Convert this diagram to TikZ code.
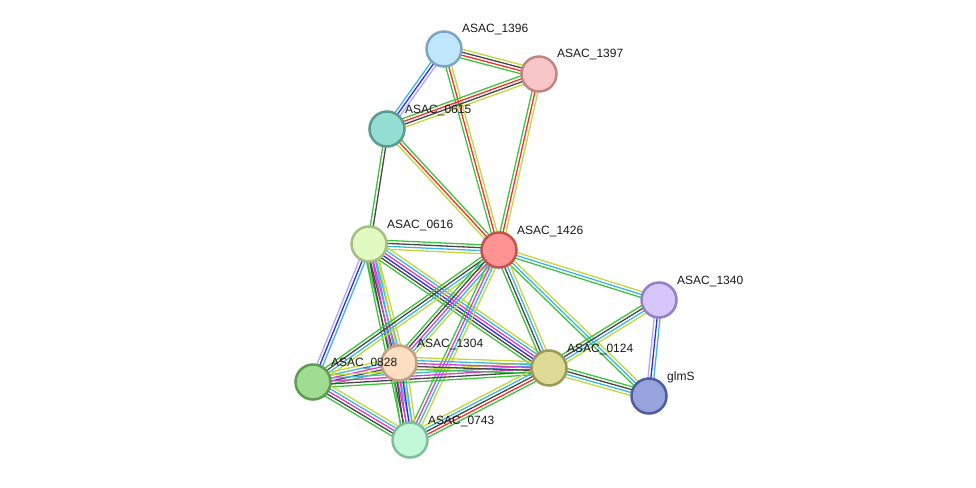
\documentclass[tikz,border=0pt]{standalone}
\usepackage{fontspec}
\setmainfont{Liberation Sans}
\usetikzlibrary{calc}
\pgfdeclarelayer{background}
\pgfsetlayers{background,main}
\definecolor{sgreen}{HTML}{3DC33D}
\definecolor{sred}{HTML}{FF2A2A}
\definecolor{sblue}{HTML}{2A2AFF}
\definecolor{sdark}{HTML}{474747}
\definecolor{scyan}{HTML}{3CB6E0}
\definecolor{smag}{HTML}{D63CD6}
\definecolor{syel}{HTML}{C3D63C}
\definecolor{slav}{HTML}{ABA8FF}
\definecolor{f1396}{HTML}{BFE6FB}\definecolor{d1396}{HTML}{7CA5C3}
\definecolor{f1397}{HTML}{F7C6C6}\definecolor{d1397}{HTML}{C08686}
\definecolor{f0615}{HTML}{94DDD3}\definecolor{d0615}{HTML}{5A9A90}
\definecolor{f0616}{HTML}{E0FAC2}\definecolor{d0616}{HTML}{A6BE86}
\definecolor{f1426}{HTML}{FF9292}\definecolor{d1426}{HTML}{C05252}
\definecolor{f1340}{HTML}{D6C6FB}\definecolor{d1340}{HTML}{927FC6}
\definecolor{f0828}{HTML}{A0DD92}\definecolor{d0828}{HTML}{5E9C52}
\definecolor{f1304}{HTML}{FDDEC2}\definecolor{d1304}{HTML}{BFA080}
\definecolor{f0124}{HTML}{DEDB96}\definecolor{d0124}{HTML}{9C9858}
\definecolor{fglmS}{HTML}{98A3DE}\definecolor{dglmS}{HTML}{4F5D9E}
\definecolor{f0743}{HTML}{C2F8D8}\definecolor{d0743}{HTML}{7EBE9E}
\tikzset{
  prot/.style={circle, draw=d#1, fill=f#1, line width=2.5pt, minimum size=35pt, inner sep=0pt},
  plabel/.style={anchor=base west, font=\fontsize{12}{14}\selectfont, text=black!90, inner sep=0pt},
  eline/.style={line width=1.3pt}
}
\newcommand\sedge[3]{%
  \xdef\nc{0}%
  \foreach \c in {#3}{\pgfmathtruncatemacro\tmp{\nc+1}\global\let\nc\tmp}%
  \foreach \c [count=\i] in {#3}{%
    \pgfmathsetmacro\off{(\i-1-(\nc-1)/2)*2.95}%
    \draw[eline,\c] ($(#1)!\off pt!90:(#2)$) -- ($(#2)!\off pt!-90:(#1)$);
  }%
}
\begin{document}
\begin{tikzpicture}[x=1pt,y=-1pt]
\useasboundingbox (0,0) rectangle (976,487);
\node[prot=1396] (n1396) at (444,49) {};
\node[prot=1397] (n1397) at (539,74) {};
\node[prot=0615] (n0615) at (387,129) {};
\node[prot=0616] (n0616) at (369,244) {};
\node[prot=1426] (n1426) at (499,250) {};
\node[prot=1340] (n1340) at (659,300) {};
\node[prot=0828] (n0828) at (313,382) {};
\node[prot=1304] (n1304) at (399,363) {};
\node[prot=0124] (n0124) at (549,368) {};
\node[prot=glmS] (nglmS) at (649,396) {};
\node[prot=0743] (n0743) at (410,440) {};
\node[plabel] (l1396) at ($(n1396)+(18,-16)$) {ASAC\_1396};
\node[plabel] (l1397) at ($(n1397)+(18,-16)$) {ASAC\_1397};
\node[plabel] (l0615) at ($(n0615)+(18,-16)$) {ASAC\_0615};
\node[plabel] (l0616) at ($(n0616)+(18,-16)$) {ASAC\_0616};
\node[plabel] (l1426) at ($(n1426)+(18,-16)$) {ASAC\_1426};
\node[plabel] (l1340) at ($(n1340)+(18,-16)$) {ASAC\_1340};
\node[plabel] (l0828) at ($(n0828)+(18,-16)$) {ASAC\_0828};
\node[plabel] (l1304) at ($(n1304)+(18,-16)$) {ASAC\_1304};
\node[plabel] (l0124) at ($(n0124)+(18,-16)$) {ASAC\_0124};
\node[plabel] (lglmS) at ($(nglmS)+(18,-16)$) {glmS};
\node[plabel] (l0743) at ($(n0743)+(18,-16)$) {ASAC\_0743};
\begin{pgfonlayer}{background}
\sedge{n1396}{n1397}{sgreen,sred,sdark,syel}
\sedge{n1396}{n0615}{scyan,sblue,slav}
\sedge{n1396}{n1426}{sgreen,sred,syel}
\sedge{n1397}{n1426}{sgreen,sred,syel}
\sedge{n0615}{n1397}{syel,sdark,sred,sgreen}
\sedge{n0615}{n1426}{syel,sred,sgreen}
\sedge{n0615}{n0616}{sgreen,sdark}
\sedge{n0616}{n1426}{syel,scyan,sdark,sgreen}
\sedge{n0616}{n0828}{slav,sblue,scyan}
\sedge{n0616}{n1304}{sgreen,sdark,smag,scyan,syel}
\sedge{n0616}{n0743}{sgreen,sdark,smag,scyan,syel}
\sedge{n0616}{n0124}{sgreen,sdark,sblue,smag,scyan,syel}
\sedge{n1426}{n1340}{sgreen,scyan,syel}
\sedge{n1426}{nglmS}{sgreen,scyan,syel}
\sedge{n1426}{n0124}{sgreen,sdark,scyan,syel}
\sedge{n1426}{n0828}{sgreen,sdark,scyan,syel}
\sedge{n1426}{n1304}{sgreen,sdark,smag,scyan,syel}
\sedge{n1426}{n0743}{sgreen,smag,scyan,syel}
\sedge{n1340}{n0124}{sgreen,sdark,scyan,syel}
\sedge{n1340}{nglmS}{slav,sblue,scyan}
\sedge{n0124}{nglmS}{syel,scyan,sdark,sgreen}
\sedge{n0828}{n1304}{sgreen,sdark,smag,scyan,syel}
\sedge{n0828}{n0124}{sgreen,sdark,smag,scyan,syel}
\sedge{n0828}{n0743}{sgreen,sdark,smag,scyan,syel}
\sedge{n1304}{n0124}{sgreen,sdark,smag,scyan,syel}
\sedge{n1304}{n0743}{sgreen,sdark,smag,sblue,scyan,syel}
\sedge{n0743}{n0124}{sgreen,sred,sdark,scyan,syel}
\end{pgfonlayer}
\end{tikzpicture}
\end{document}
